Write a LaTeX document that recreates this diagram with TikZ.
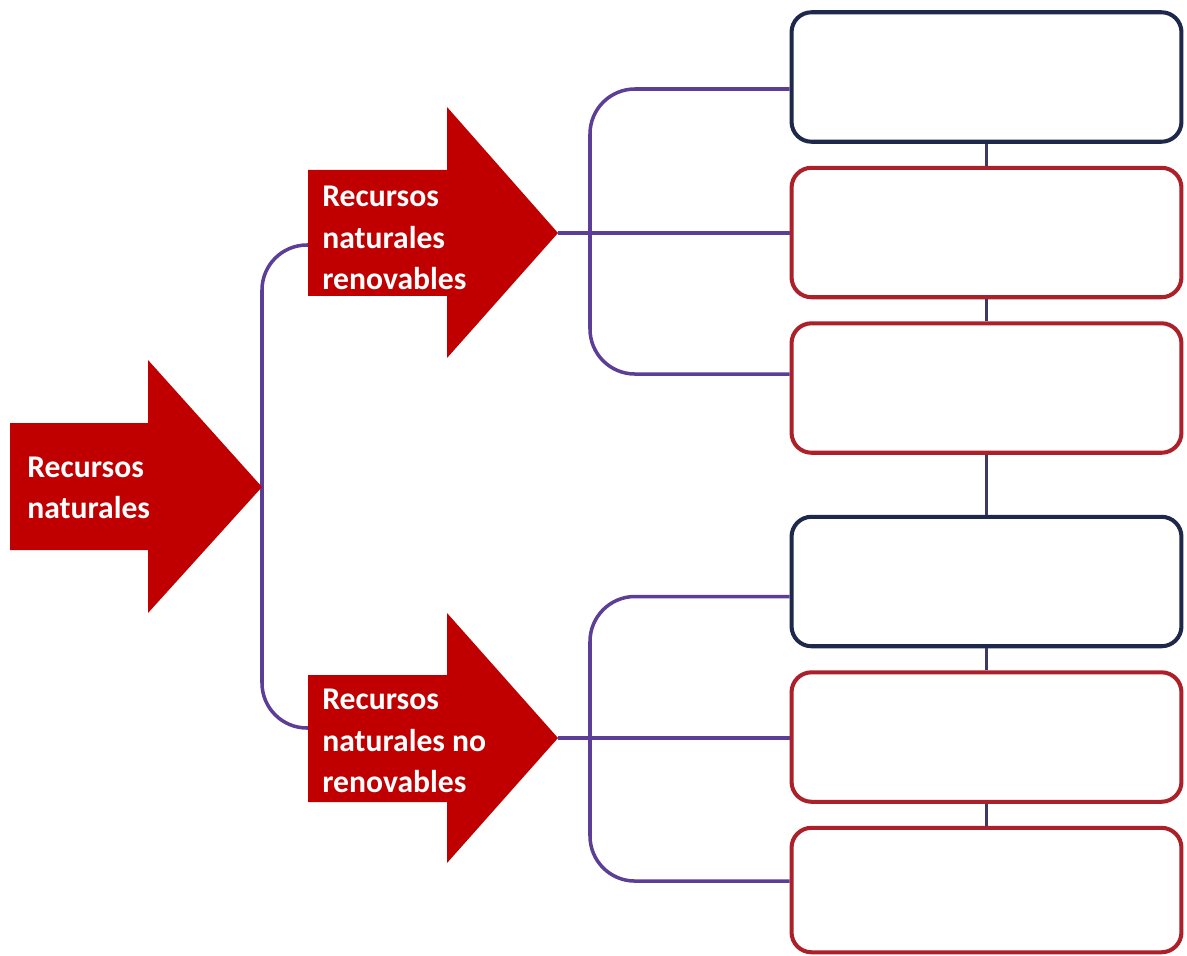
\documentclass[tikz,border=0pt]{standalone}
\usepackage{fontspec}
\setmainfont{Carlito}
\usetikzlibrary{positioning}

\definecolor{rojoflecha}{RGB}{192,0,0}
\definecolor{rojoborde}{RGB}{172,32,42}
\definecolor{azulborde}{RGB}{30,40,75}
\definecolor{morado}{RGB}{92,62,150}
\definecolor{pizarra}{RGB}{60,58,100}

\begin{document}
\begin{tikzpicture}[x=0.02cm, y=-0.02cm, node distance=0.44cm,
		flecha/.style={fill=rojoflecha},
		txt/.style={text=white, font=\bfseries\fontsize{18}{23.5}\selectfont, align=left, anchor=west, inner sep=0pt},
		caja/.style={draw, rounded corners=0.4cm, line width=2.3pt, fill=white, minimum width=7.8cm, minimum height=2.59cm},
		cajaazul/.style={caja, draw=azulborde},
		cajaroja/.style={caja, draw=rojoborde},
		linea/.style={draw=morado, line width=2pt},
		union/.style={draw=pizarra, line width=2pt}]
		\useasboundingbox (0,0) rectangle (1187,956);

		\coordinate (rn-tip) at (262,487);
		\coordinate (rnr-tip) at (558,233);
		\coordinate (rnn-tip) at (558,738);
		\coordinate (rnr-cola) at (308,245);
		\coordinate (rnn-cola) at (308,728);

		\node [cajaazul] (b1) at (986.5,77) {};
		\node [cajaroja, below=of b1] (b2) {};
		\node [cajaroja, below=of b2] (b3) {};
		\node [cajaazul, below=1.2cm of b3] (b4) {};
		\node [cajaroja, below=of b4] (b5) {};
		\node [cajaroja, minimum height=2.49cm, below=of b5] (b6) {};

		\draw[union] (b1) -- (b2);
		\draw[union] (b2) -- (b3);
		\draw[union] (b3) -- (b4);
		\draw[union] (b4) -- (b5);
		\draw[union] (b5) -- (b6);

		\draw[linea, rounded corners=0.9cm] (rnr-cola) -| (rn-tip) |- (rnn-cola);
		\draw[linea, rounded corners=0.9cm] ([yshift=-0.24cm]b1.west) -| ([xshift=0.64cm]rnr-tip) |- ([yshift=0.28cm]b3.west);
		\draw[linea] (rnr-tip) -- (rnr-tip -| b2.west);
		\draw[linea, rounded corners=0.9cm] ([yshift=-0.3cm]b4.west) -| ([xshift=0.64cm]rnn-tip) |- ([yshift=0.18cm]b6.west);
		\draw[linea] (rnn-tip) -- (rnn-tip -| b5.west);

		% flechas
		\fill[flecha] (10,423) -- (148,423) -- (148,360) -- (rn-tip) -- (148,613) -- (148,550) -- (10,550) -- cycle;
		\fill[flecha] (308,170) -- (447,170) -- (447,107) -- (rnr-tip) -- (447,358) -- (447,296) -- (308,296) -- cycle;
		\fill[flecha] (308,675) -- (447,675) -- (447,613) -- (rnn-tip) -- (447,863) -- (447,802) -- (308,802) -- cycle;

		\node [txt] (rn) at (27,488) {Recursos\\naturales};
		\node [txt] (rnr) at (322,238) {Recursos\\naturales\\renovables};
		\node [txt] (rnn) at (322,741) {Recursos\\naturales no\\renovables};
	\end{tikzpicture}
\end{document}
